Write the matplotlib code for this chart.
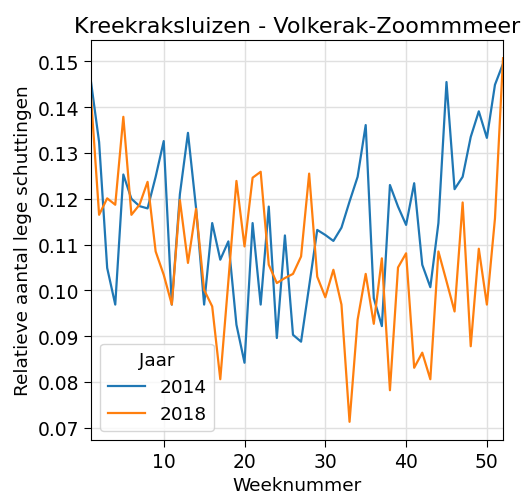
import numpy as np
import matplotlib
matplotlib.use("Agg")
import matplotlib.pyplot as plt

# weeknummers en relatieve aantallen lege schuttingen per jaar
weken = list(range(1, 53))
jaar_2014 = [0.1455, 0.1324, 0.1049, 0.0969, 0.1253, 0.1200, 0.1184, 0.1179, 0.1248, 0.1326,
             0.0969, 0.1210, 0.1344, 0.1180, 0.0969, 0.1147, 0.1067, 0.1107, 0.0925, 0.0842,
             0.1147, 0.0969, 0.1183, 0.0896, 0.1120, 0.0903, 0.0888, 0.1009, 0.1132, 0.1121,
             0.1108, 0.1137, 0.1194, 0.1248, 0.1361, 0.0983, 0.0922, 0.1230, 0.1183, 0.1143,
             0.1234, 0.1056, 0.1007, 0.1147, 0.1455, 0.1221, 0.1248, 0.1335, 0.1391, 0.1333,
             0.1449, 0.1495]
jaar_2018 = [0.1422, 0.1165, 0.1201, 0.1187, 0.1379, 0.1165, 0.1187, 0.1237, 0.1085, 0.1034,
             0.0969, 0.1197, 0.1060, 0.1178, 0.1001, 0.0965, 0.0806, 0.1020, 0.1239, 0.1096,
             0.1246, 0.1259, 0.1056, 0.1016, 0.1027, 0.1036, 0.1074, 0.1255, 0.1030, 0.0985,
             0.1045, 0.0969, 0.0713, 0.0936, 0.1036, 0.0927, 0.1070, 0.0782, 0.1050, 0.1081,
             0.0831, 0.0864, 0.0806, 0.1085, 0.1020, 0.0954, 0.1192, 0.0878, 0.1091, 0.0969,
             0.1157, 0.1507]

fig = plt.figure(figsize=(5.24, 5.02), dpi=100)
ax = fig.add_axes([0.1737, 0.1215, 0.7863, 0.7968])

ax.plot(weken, jaar_2014, color="#1f77b4", lw=1.6, label="2014")
ax.plot(weken, jaar_2018, color="#ff7f0e", lw=1.6, label="2018")

ax.set_xlim(1, 52)
ax.grid(True, color="#e0e0e0", lw=1.0)
ax.set_axisbelow(True)
ax.set_xticks([10, 20, 30, 40, 50])
ax.tick_params(labelsize=13.5, length=5)
ax.set_title("Kreekraksluizen - Volkerak-Zoommmeer", fontsize=16)
ax.set_xlabel("Weeknummer", fontsize=13.3)
ax.set_ylabel("Relatieve aantal lege schuttingen", fontsize=13.3)
leg = ax.legend(title="Jaar", loc="lower left", fontsize=13.3, title_fontsize=13.3)

fig.savefig("out.png", dpi=100)
